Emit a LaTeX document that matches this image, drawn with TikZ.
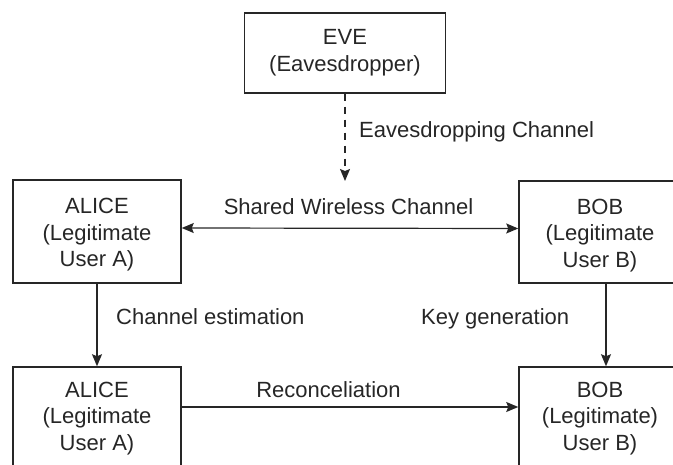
\documentclass[tikz,border=0pt]{standalone}
\usepackage{fontspec}
\setmainfont{Liberation Sans}
\usetikzlibrary{arrows.meta}
\definecolor{ink}{HTML}{262626}

\begin{document}
\begin{tikzpicture}[x=1pt, y=-1pt,
        >={Stealth[length=12pt, width=10pt, inset=2pt]},
        party/.style={draw=ink, line width=1.5pt, text=ink, align=center, inner sep=0pt,
            font=\fontsize{22}{26.7}\selectfont},
        lbl/.style={text=ink, inner sep=0pt, font=\fontsize{22}{26.5}\selectfont},
        link/.style={draw=ink, line width=1.2pt}]
            \useasboundingbox (0,0) rectangle (673,465);

            \node[party, minimum width=201, minimum height=80] (eve) at (345,53) {EVE\\(Eavesdropper)};
            \coordinate (tap) at (345,181);

            % top pair sits a little lower in its frame
            \node[party, minimum width=168, minimum height=103] (alice1) at (97,231.5) {\rule{0pt}{22pt}ALICE\\(Legitimate\\User A)};
            \node[party, minimum width=162, minimum height=102] (bob1) at (600,232) {\rule{0pt}{22pt}BOB\\(Legitimate\\User B)};
            \node[party, minimum width=168, minimum height=103] (alice2) at (97,418.5) {ALICE\\(Legitimate\\User A)};
            \node[party, minimum width=162, minimum height=103] (bob2) at (600,418.5) {BOB\\(Legitimate)\\User B)};

            \draw[link, ->, dash pattern=on 7pt off 6pt] (eve.south) -- (tap);
            \draw[link, <->] ([yshift=3.5pt]alice1.east) -- ([yshift=3.5pt]bob1.west);
            \draw[link, ->] (alice1.south) -- (alice2.north);
            \draw[link, ->] ([xshift=6pt]bob1.south) -- ([xshift=6pt]bob2.north);
            \draw[link, ->] ([yshift=11.5pt]alice2.east) -- ([yshift=11.5pt]bob2.west);

            \node[lbl, anchor=base west] (eavesdrop) at (359,138) {Eavesdropping Channel};
            \node[lbl, anchor=base] (shared) at (348.5,215) {Shared Wireless Channel};
            \node[lbl, anchor=base west] (estimate) at (116,325) {Channel estimation};
            \node[lbl, anchor=base west] (keygen) at (421,325) {Key generation};
            \node[lbl, anchor=base] (reconcile) at (328.5,398) {Reconceliation};
        \end{tikzpicture}
\end{document}
